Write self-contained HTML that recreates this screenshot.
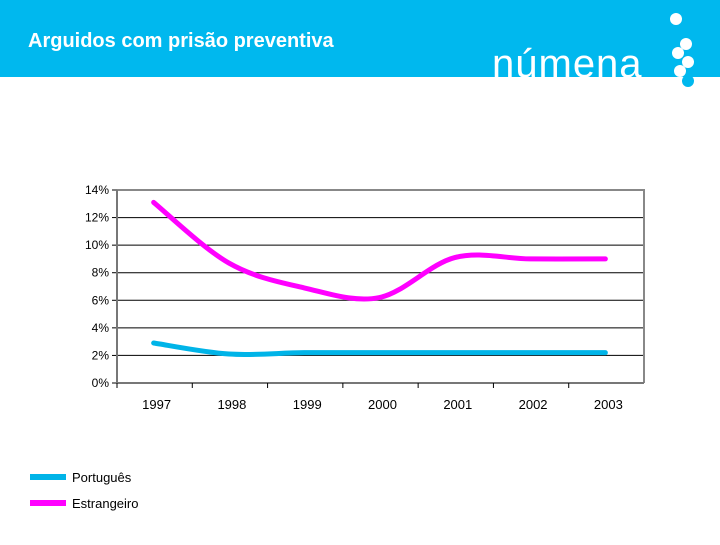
<!DOCTYPE html>
<html><head><meta charset="utf-8"><style>
body{margin:0;width:720px;height:540px;background:#fff;overflow:hidden;font-family:"Liberation Sans",sans-serif}
</style></head><body>
<svg width="720" height="540">
<rect x="0" y="0" width="720" height="77" fill="#00B8EE"/>
<text x="28" y="47" fill="#fff" font-size="20" font-weight="bold">Arguidos com prisão preventiva</text>
<g>
<text x="492" y="77" fill="#fff" font-size="40" letter-spacing="1">númena</text>
<circle cx="676" cy="19" r="6" fill="#fff"/>
<circle cx="686" cy="44" r="6" fill="#fff"/><circle cx="678" cy="53" r="6" fill="#fff"/>
<circle cx="688" cy="62" r="6" fill="#fff"/><circle cx="680" cy="71" r="6" fill="#fff"/>
<circle cx="688" cy="81" r="6" fill="#00B8EE"/>
</g>
<g id="plot"></g>
<g>
<line x1="30" y1="477" x2="66" y2="477" stroke="#00B4E8" stroke-width="6"/>
<text x="72" y="482" font-size="13">Português</text>
<line x1="30" y1="503" x2="66" y2="503" stroke="#FF00FF" stroke-width="6"/>
<text x="72" y="508" font-size="13">Estrangeiro</text>
</g>
</svg>
<script>
const categories=["1997","1998","1999","2000","2001","2002","2003"];
const portugues=[2.9,2.1,2.2,2.2,2.2,2.2,2.2];
const estrangeiro=[13.1,8.7,6.9,6.2,9.1,9.0,9.0];
const yTicks=[0,2,4,6,8,10,12,14];
const NS="http://www.w3.org/2000/svg";
const g=document.getElementById('plot');
const X0=117,X1=644,Y0=383,Y1=190;
const bw=(X1-X0)/categories.length;
const xs=i=>X0+bw*(i+0.5)-1;
const ys=v=>Y0-(v/14)*(Y0-Y1);
function mk(t,a){const e=document.createElementNS(NS,t);for(const k in a)e.setAttribute(k,a[k]);g.appendChild(e);return e;}
yTicks.forEach(v=>{
 if(v>0){const l=mk('line',{x1:X0,x2:X1,y1:ys(v),y2:ys(v),stroke:'#000','stroke-width':1});
 
 }
 const tk=mk('line',{x1:X0-5,x2:X0,y1:ys(v),y2:ys(v),stroke:'#000'});
 
 
 const t=mk('text',{x:X0-8,y:ys(v)+4,'text-anchor':'end','font-size':12});t.textContent=v+'%';
 
 
});
const fr=mk('path',{d:`M${X0},${Y1}H${X1}V${Y0}`,fill:'none',stroke:'#888','stroke-width':2});


const ax=mk('path',{d:`M${X0},${Y1}V${Y0}H${X1}`,fill:'none',stroke:'#777','stroke-width':2});


categories.forEach((c,i)=>{
 const tk=mk('line',{x1:X0+bw*i,x2:X0+bw*i,y1:Y0,y2:Y0+5,stroke:'#000'});
 
 
 const t=mk('text',{x:xs(i)+3,y:Y0+26,'text-anchor':'middle','font-size':13});t.textContent=c;
 
 
});
function smooth(vals){
 const p=vals.map((v,i)=>[xs(i),ys(v)]);let d=`M${p[0][0]},${p[0][1]}`;
 for(let i=0;i<p.length-1;i++){const a=p[i-1]||p[i],b=p[i],c=p[i+1],e=p[i+2]||c;
  d+=`C${b[0]+(c[0]-a[0])/6},${b[1]+(c[1]-a[1])/6} ${c[0]-(e[0]-b[0])/6},${c[1]-(e[1]-b[1])/6} ${c[0]},${c[1]}`;}
 return d;}
const s1=mk('path',{d:smooth(portugues),fill:'none',stroke:'#00B4E8','stroke-width':5,'stroke-linecap':'round'});


const s2=mk('path',{d:smooth(estrangeiro),fill:'none',stroke:'#FF00FF','stroke-width':5,'stroke-linecap':'round'});


</script>
</body></html>
